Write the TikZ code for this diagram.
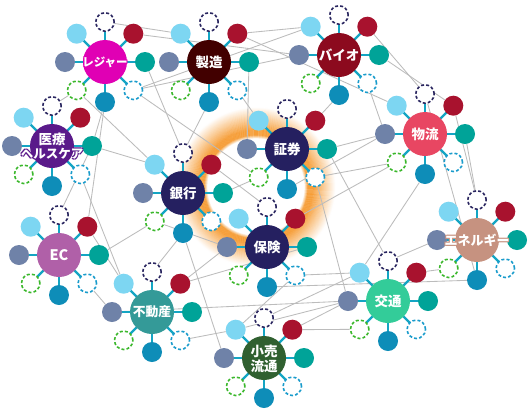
\documentclass[tikz,border=0pt]{standalone}
\usepackage{fontspec}
\newfontfamily\jp{Noto Sans CJK JP}
\usetikzlibrary{calc}
\definecolor{spokec}{RGB}{20,165,195}
\definecolor{cltblue}{RGB}{125,214,242}
\definecolor{cred}{RGB}{168,18,46}
\definecolor{cteal}{RGB}{0,163,152}
\definecolor{cdblue}{RGB}{26,156,204}
\definecolor{cblue}{RGB}{14,141,184}
\definecolor{cgreen}{RGB}{59,184,44}
\definecolor{cslate}{RGB}{111,130,168}
\definecolor{cnavy}{RGB}{42,38,96}
\definecolor{hL}{RGB}{224,0,180}
\definecolor{hM}{RGB}{66,0,0}
\definecolor{hB}{RGB}{140,10,30}
\definecolor{hP}{RGB}{232,70,98}
\definecolor{hH}{RGB}{90,26,138}
\definecolor{hG}{RGB}{37,32,96}
\definecolor{hEC}{RGB}{176,96,168}
\definecolor{hN}{RGB}{198,146,128}
\definecolor{hF}{RGB}{52,154,152}
\definecolor{hT}{RGB}{51,204,153}
\definecolor{hR}{RGB}{48,96,48}
\definecolor{glowor}{RGB}{246,158,56}
\definecolor{lineg}{RGB}{188,188,188}
\pgfdeclarelayer{glowlayer}
\pgfdeclarelayer{linelayer}
\pgfdeclarelayer{spokelayer}
\pgfsetlayers{glowlayer,linelayer,spokelayer,main}
\tikzset{
  hubc/.style={circle,minimum size=44pt,inner sep=0pt,draw=none},
  satf/.style={circle,minimum size=20pt,inner sep=0pt,draw=none},
  satd/.style={circle,minimum size=18.4pt,inner sep=0pt,fill=white,line width=1.6pt,dash pattern=on 3pt off 2.1pt},
  spoke/.style={draw=spokec,line width=2.2pt},
  gline/.style={draw=lineg,line width=0.85pt},
  lab/.style={inner sep=0pt,align=center,font=\jp\bfseries\fontsize{#1}{#1}\selectfont},
}
\newcommand\hubset[4]{%
  \node[hubc,fill=#4] (#1) at (#2,#3) {};
  \node[satd,draw=cnavy] (#1-N) at ($(#1)+(0,-40)$) {};
  \node[satf,fill=cred] (#1-NE) at ($(#1)+(28.3,-28.3)$) {};
  \node[satf,fill=cteal] (#1-E) at ($(#1)+(40,0)$) {};
  \node[satd,draw=cdblue] (#1-SE) at ($(#1)+(28.3,28.3)$) {};
  \node[satf,fill=cblue] (#1-S) at ($(#1)+(0,40)$) {};
  \node[satd,draw=cgreen] (#1-SW) at ($(#1)+(-28.3,28.3)$) {};
  \node[satf,fill=cslate] (#1-W) at ($(#1)+(-40,0)$) {};
  \node[satf,fill=cltblue] (#1-NW) at ($(#1)+(-28.3,-28.3)$) {};
  \begin{pgfonlayer}{spokelayer}
    \foreach \d in {N,NE,E,SE,S,SW,W,NW} \draw[spoke] (#1.center) -- (#1-\d.center);
  \end{pgfonlayer}
}
\newcommand\hublabel[4]{% name, size, dy, text
  \node[lab=#2,text=white] (#1-lab#3) at ($(#1)+(0,#3)$) {#4};
}
\newcommand\hublabelo[5]{% name, outline colour, size, dy, text
  \foreach \a in {45,135,225,315}
    \node[lab=#3,text=#2] (#1-o\a) at ($(#1)+(0,#4)+(\a:1.4)$) {#5};
  \node[lab=#3,text=white] (#1-lab#4) at ($(#1)+(0,#4)$) {#5};
}
\begin{document}
\begin{tikzpicture}[x=1pt,y=-1pt]
\useasboundingbox (0,0) rectangle (530,410);
\begin{pgfonlayer}{glowlayer}
  \fill[white] (0,0) rectangle (530,410);
  \coordinate (glowc) at (256,187);
  \foreach \r in {49,49.5,...,80}{
    \pgfmathsetmacro\p{\r<52 ? (\r-48.5)*28 : (\r<57 ? 100 : max(0,100-(\r-57)*4.4))}
    \draw[glowor!\p!white,line width=0.7pt] (glowc) circle (\r);
  }
\end{pgfonlayer}
\hubset{L}{105}{62}{hL}
\hubset{M}{209}{62}{hM}
\hubset{B}{339}{55}{hB}
\hubset{P}{425}{134}{hP}
\hubset{H}{52}{146}{hH}
\hubset{G}{183}{193}{hG}
\hubset{S}{287}{149}{hG}
\hubset{I}{267}{247}{hG}
\hubset{EC}{59}{255}{hEC}
\hubset{N}{477}{240}{hN}
\hubset{F}{152}{312}{hF}
\hubset{T}{388}{301}{hT}
\hubset{R}{264}{358}{hR}
\begin{pgfonlayer}{linelayer}
\foreach \a/\b in {L-N/M-NW, L-NE/B-W, M-NE/B-NW, L-SE/B-NW, L-SE/B-W, M-NE/P-NW,
  M-E/S-W, M-S/G-N, L-E/G-N, L-SE/S-SW, L-S/H-E, L-SW/H-N, L-SW/G-NW, L-S/EC-NE,
  H-E/G-NW, H-E/EC-N, H-SE/F-NW, EC-NE/F-NW, EC-E/G-SW, EC-SE/F-W, G-S/F-N, G-S/R-W,
  G-E/S-SW, G-NE/I-N, G-SW/I-W, F-NE/I-W, F-NE/I-E, F-SE/R-NW, F-W/T-W, I-SE/R-NW,
  R-NE/T-SW, R-NE/T-W, R-NW/T-W, T-NW/I-SE, T-NW/R-N, S-SE/T-W, S-E/T-N, S-E/P-W,
  S-SE/P-SW, P-SW/I-NE, P-S/T-NW, P-W/S-S, B-NE/P-N, B-E/P-NE, B-SE/P-W, B-S/S-NE,
  P-NE/N-N, P-E/N-N, P-N/N-S, N-W/T-N, N-S/I-S, N-SW/T-NE, M-SE/S-NW}
  \draw[gline] (\a) -- (\b);
\end{pgfonlayer}
\hublabelo{L}{hL}{11.5}{0}{レジャー}
\hublabel{M}{13.5}{0}{製造}
\hublabel{B}{13.5}{0}{バイオ}
\hublabel{P}{13.5}{0}{物流}
\hublabel{H}{13.5}{-7}{医療}
\hublabelo{H}{hH}{12.5}{8}{ヘルスケア}
\hublabel{G}{13.5}{0}{銀行}
\hublabel{S}{13.5}{0}{証券}
\hublabel{I}{13.5}{0}{保険}
\hublabel{EC}{14.5}{0}{EC}
\hublabelo{N}{hN}{13}{0}{エネルギー}
\hublabel{F}{12.8}{0}{不動産}
\hublabel{T}{13.5}{0}{交通}
\hublabel{R}{13.5}{-7}{小売}
\hublabel{R}{13.5}{8}{流通}
\end{tikzpicture}
\end{document}
